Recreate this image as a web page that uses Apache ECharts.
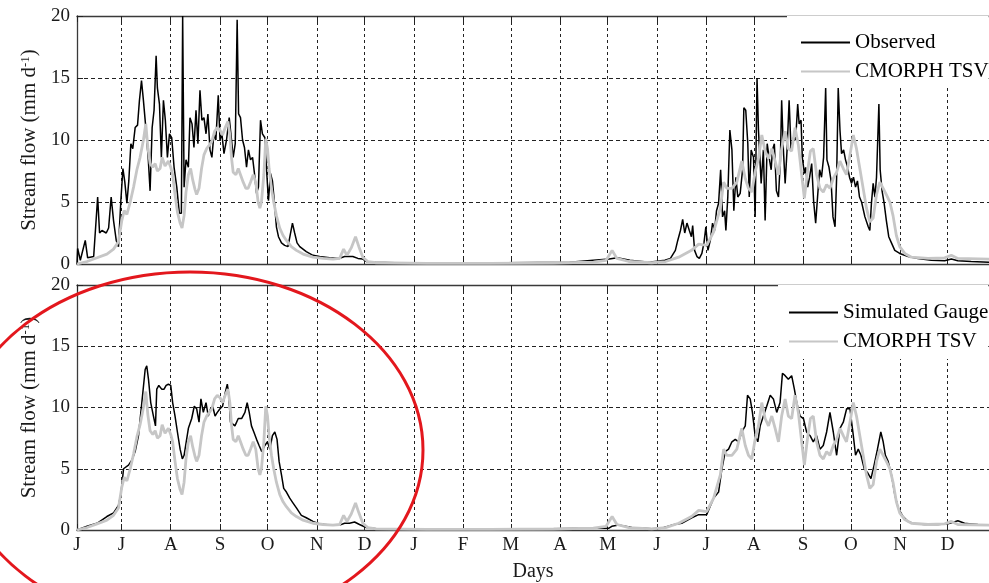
<!DOCTYPE html>
<html>
<head>
<meta charset="utf-8">
<script src="https://cdn.jsdelivr.net/npm/echarts@6/dist/echarts.min.js"></script>
<style>
  html, body { margin: 0; padding: 0; background: #fff; }
  #chart { width: 989px; height: 583px; }
</style>
</head>
<body>
<div id="chart"></div>
<script>
// Days counted from 1 June of the first year; month boundaries used for ticks
const monthTicks = [0, 28, 59, 90, 120, 151, 181, 212, 243, 273, 304, 334, 365, 396, 426, 457, 487, 518, 548];
const monthLetters = ['J','J','A','S','O','N','D','J','F','M','A','M','J','J','A','S','O','N','D'];
const yTicks = [0, 5, 10, 15, 20];

// Observed stream flow [day, mm/d]
const observed = [
  [0,0],[0.4,1.25],[2.1,0.3],[5.2,1.9],[6.7,0.5],[10.5,0.6],[13,5.4],[14.2,2.5],[15.7,2.7],[18.4,2.5],
  [19.9,2.9],[21.5,5.4],[23,3.5],[24.7,1.9],[26.1,1.4],[27.6,5.1],[28.9,7.7],[30.1,6.6],[31.4,4.9],[32.6,6.7],
  [33.9,9.7],[35.1,9.3],[36.6,11.0],[38.1,11.2],[39.3,13.2],[40.6,14.8],[41.8,13.2],[43.1,11.3],[44.8,8.6],[46,5.9],
  [47.3,11.0],[48.5,12.4],[49.8,16.8],[50.6,14.2],[51.9,12.9],[53.1,8.6],[54.4,13.2],[55.6,11.6],[56.9,8.6],[58.2,10.5],
  [59.6,10.2],[61.1,7.8],[62.8,6.2],[64.4,4.1],[65.7,4.1],[66.5,20],[67.4,6.2],[68.6,8.4],[70.1,7.8],[71.1,11.8],
  [72.4,11.3],[73.6,9.4],[74.9,12.4],[76.1,9.7],[77.4,14.0],[78.6,11.6],[79.9,11.8],[81.2,10.5],[82.4,12.1],[83.7,9.2],
  [84.9,8.6],[86.2,10.5],[87.4,10.0],[88.9,13.6],[90,10.0],[91.2,10.5],[92.5,8.9],[94.1,10.0],[95.8,11.8],[97.1,10.2],
  [98.3,8.6],[99.6,9.7],[100.8,19.7],[101.7,12.1],[102.9,11.8],[104.2,10.0],[105.4,9.4],[106.7,7.8],[107.9,9.2],[109.2,8.4],
  [110.5,8.6],[111.7,7.3],[113,5.7],[114.2,6.2],[115.5,11.6],[116.7,10.5],[118.2,10.2],[119.3,7.6],[120.5,5.1],[121.8,7.3],
  [123,6.7],[124.3,4.9],[125.5,3.0],[126.8,2.2],[128.7,1.7],[130.7,1.5],[132.8,1.4],[135.6,3.3],[137,2.5],[138.5,1.7],
  [140.2,1.4],[144.3,1.0],[148.5,0.7],[152.7,0.6],[159,0.5],[165.3,0.45],[168.4,0.6],[171.5,0.6],[173.6,0.6],[176.8,0.45],
  [179.9,0.4],[182,0.2],[188,0.15],[200,0.1],[230,0.1],[270,0.1],[310,0.15],[325,0.3],[335,0.4],[340,0.5],
  [348,0.3],[360,0.15],[370,0.3],[373.5,0.45],[376.6,1.1],[378.1,1.9],[379.8,2.7],[381.2,3.6],[382.5,2.5],[383.9,3.3],
  [385.4,2.7],[386.7,2.2],[387.5,3.1],[388.7,1.1],[390.2,0.6],[391.7,0.45],[393.3,0.85],[394.6,1.7],[395.8,3.0],[397.1,1.1],
  [398.6,1.9],[400,3.3],[401.3,2.7],[402.5,4.3],[403.8,4.9],[405.1,7.6],[406.3,3.8],[407.6,4.3],[408.4,2.7],[409.6,5.4],
  [410.9,10.8],[412.2,9.2],[413.4,4.3],[414.7,7.0],[415.9,5.4],[417.4,5.7],[418.9,7.6],[419.7,12.6],[420.9,12.4],[422.2,9.7],
  [423.1,5.4],[424.3,9.2],[425.8,8.6],[426.8,3.8],[428,15.0],[428.9,10.8],[430.6,6.5],[432,9.2],[433.1,3.5],[434.4,9.7],
  [435.6,8.6],[436.9,7.6],[437.7,9.2],[438.9,9.7],[440.2,5.9],[441.5,5.4],[442.7,8.4],[443.5,13.2],[444.6,9.2],[445.7,6.5],
  [446.9,9.2],[448.2,13.2],[449.4,9.2],[450.9,10.2],[452.3,10.0],[453.6,12.9],[454.5,11.3],[455.7,11.6],[456.5,8.6],[457.8,7.3],
  [458.6,7.8],[459.9,6.2],[461.1,7.0],[462.4,8.1],[463.6,5.1],[464.9,3.3],[466.1,5.4],[467.4,7.6],[468.6,7.0],[469.9,8.6],
  [471.2,14.2],[472,8.4],[473.3,7.8],[474.6,6.7],[475.8,3.8],[477.1,3.0],[478.1,7.0],[479.1,14.2],[480.2,10.8],[481.2,8.9],
  [482.5,9.2],[483.7,8.4],[485,7.8],[486.2,7.0],[487.5,6.5],[488.7,7.0],[490,6.2],[491.2,6.7],[492.5,5.4],[493.8,5.0],
  [495.9,3.8],[498,3.0],[499,2.7],[500,4.9],[501.1,6.5],[502.2,5.4],[503.2,7.0],[504.7,12.9],[505.5,7.6],[506.7,5.9],
  [508,4.9],[509.4,3.5],[510.9,2.2],[512.6,1.7],[514.7,1.1],[517.8,0.85],[523.1,0.6],[529.3,0.45],[537.7,0.3],[546.1,0.27],
  [550.3,0.4],[554.4,0.27],[562.8,0.2],[574,0.15]
];

// CMORPH TSV driven stream flow [day, mm/d]
const cmorphTsv = [
  [0,0],[6.3,0.2],[12.6,0.5],[18.8,0.8],[23,1.2],[26.1,1.8],[28.2,3.5],[29.7,4.3],[31.4,4.0],[33.5,5.0],
  [35.6,6.2],[37.7,7.6],[39.7,8.6],[41.8,10.0],[43.3,11.3],[44.6,9.4],[46,8.1],[47.7,7.8],[49.2,8.1],[50.6,7.5],
  [52.3,7.7],[53.6,8.6],[55.4,7.9],[57.5,8.3],[59,7.8],[60.2,7.2],[61.7,5.6],[63.2,4.2],[64.9,3.3],[66.1,2.9],
  [67.4,3.9],[68.6,5.8],[70.1,7.2],[71.5,7.7],[72.8,6.8],[74.3,6.0],[75.3,5.6],[76.8,6.1],[78.4,7.7],[79.9,8.8],
  [81.6,9.3],[83.3,9.6],[84.9,9.9],[86.6,10.7],[88.3,11.0],[90,10.8],[91.6,10.4],[93.3,11.0],[95,11.5],[96.2,10.4],
  [97.3,8.5],[98.3,7.4],[100,7.2],[101.5,7.7],[102.9,7.2],[104.6,6.6],[106.3,6.1],[107.7,6.1],[109.2,6.6],[110.9,7.2],
  [112.5,6.6],[114,5.0],[115.1,4.5],[116.1,5.0],[117.6,7.2],[118.8,10.1],[119.9,9.3],[120.9,7.7],[122.4,6.1],[123.8,5.0],
  [125.5,3.9],[127.6,2.9],[129.7,2.3],[131.8,1.9],[134.9,1.4],[138.1,1.1],[142.3,0.8],[148.5,0.55],[154.8,0.45],[161.1,0.4],
  [165.3,0.45],[167.8,1.2],[169.9,0.7],[172.6,1.3],[175.3,2.2],[177.4,1.4],[179.9,0.55],[183,0.2],[188.3,0.1],[220,0.05],
  [260,0.05],[300,0.08],[325,0.15],[333,0.3],[336.8,1.1],[339.8,0.45],[347.3,0.2],[361.7,0.1],[370.5,0.2],[378.7,0.55],
  [386.8,1.1],[391.3,1.6],[396.3,1.5],[400.7,2.6],[404.9,4.5],[407,6.6],[409,6.1],[412.2,6.1],[415.3,6.6],[418.4,8.3],
  [420.6,6.9],[422.6,6.1],[424.7,5.8],[426.8,7.4],[428.9,8.5],[431,10.4],[433.1,9.1],[435.2,8.5],[437.3,9.3],[439.4,8.3],
  [441.5,7.2],[443.5,9.3],[445.7,10.7],[447.7,9.3],[449.8,9.1],[451.9,11.0],[454,9.6],[456.1,7.2],[457.8,5.3],[459.5,7.2],
  [461.6,9.1],[463.4,9.3],[465.5,7.2],[467.6,6.1],[469.7,5.8],[471.8,6.4],[473.9,6.1],[476,6.9],[478.1,7.4],[480.2,8.3],
  [482.3,7.7],[484.3,7.2],[486.5,8.8],[488.6,10.4],[490.6,9.3],[492.7,7.7],[494.8,6.1],[496.9,4.5],[499,3.4],[501.1,3.7],
  [503.2,5.6],[505.3,6.6],[507.4,6.1],[509.4,5.6],[511.6,5.0],[513.6,3.9],[515.7,2.3],[517.8,1.4],[521,0.85],[525.2,0.55],
  [535.6,0.45],[546.1,0.5],[550.3,0.7],[554.4,0.45],[574,0.4]
];

// Stream flow simulated from gauge rainfall [day, mm/d]
const simulatedGauge = [
  [0,0],[6.3,0.3],[12.6,0.55],[18.8,1.1],[23,1.4],[26.1,2.0],[27.6,2.9],[29.3,5.0],[32.4,5.3],[34.5,5.7],
  [36.6,6.4],[38.7,7.7],[40.8,10.4],[42.9,13.1],[43.9,13.4],[45,12.3],[46.4,10.4],[48.1,9.3],[49.4,8.5],[50.2,11.5],
  [51.5,11.8],[53.3,11.5],[54.8,11.5],[56.1,11.8],[57.5,11.9],[59,11.8],[60.2,10.4],[61.7,9.3],[63.2,8.0],[64.9,6.6],
  [66.3,5.8],[67.4,6.1],[70.1,8.3],[72.2,9.1],[73.8,10.1],[75.3,9.9],[76.8,8.8],[78,10.7],[79.5,9.6],[81.2,10.4],
  [82.6,9.3],[84.1,9.9],[85.4,10.1],[86.9,9.3],[88.3,9.6],[90,9.9],[91.6,10.1],[93.3,11.2],[94.6,11.9],[95.4,11.2],
  [96.6,8.8],[99.4,8.5],[101.5,9.1],[103.6,9.1],[105.7,9.6],[107.1,10.4],[108.4,9.6],[109.8,8.5],[111.3,8.0],[113,7.4],
  [114.6,6.9],[116.3,6.4],[118.2,6.9],[119.9,7.2],[121.4,6.6],[123,7.7],[124.5,8.0],[125.9,7.4],[127.2,5.6],[128.7,4.5],
  [130.1,3.4],[131.8,3.1],[133.9,2.6],[136,2.2],[138.1,1.8],[141.2,1.2],[144.3,1.0],[148.5,0.7],[152.7,0.5],[159,0.4],
  [165.3,0.4],[168.4,0.55],[171.5,0.55],[174.7,0.65],[177.8,0.45],[182,0.2],[188.3,0.1],[230,0.05],[280,0.05],[316,0.15],
  [334.8,0.15],[336.6,0.3],[340.9,0.4],[349.2,0.2],[361.7,0.1],[368,0.15],[374.3,0.4],[380.6,0.55],[386.9,1.0],[391.3,1.25],
  [396.3,1.25],[400.7,2.6],[403.8,3.1],[405.9,5.0],[408,6.4],[410.1,6.6],[412.2,7.2],[414.3,7.4],[416.4,7.2],[418.4,8.0],
  [420.6,8.5],[422,11.0],[423.7,10.7],[425.1,9.6],[426.8,7.7],[428.5,7.2],[430,8.5],[432,9.3],[434.1,10.1],[436.3,11.0],
  [438.3,10.7],[440.4,9.6],[442.5,10.4],[444,12.8],[445.7,12.6],[447.7,12.3],[449.8,12.6],[451.5,11.5],[453,10.4],[455.1,9.3],
  [457.2,9.1],[459.2,8.0],[461.4,7.7],[463.4,7.2],[465.5,7.7],[467.6,6.6],[469.7,6.9],[471.8,8.0],[473.9,9.6],[476,8.0],
  [478.1,6.1],[480.2,8.3],[482.3,8.8],[484.4,9.9],[486.5,9.9],[488.6,7.7],[490,6.1],[491.7,6.6],[493.4,6.1],[495.5,5.0],
  [497.5,4.7],[499.7,4.2],[501.7,5.3],[503.8,6.6],[505.9,8.0],[507.4,7.2],[508.8,6.1],[510.5,5.6],[512.6,4.5],[514.7,2.9],
  [516.8,1.8],[519.9,1.1],[523.1,0.7],[527.3,0.5],[533.5,0.45],[541.9,0.45],[548.2,0.5],[554.4,0.75],[558.6,0.55],[562.8,0.5],
  [567,0.45],[574,0.4]
];

const SERIF = '"Liberation Serif", "Times New Roman", serif';
const INK = '#1a1a1a';
const GREY = '#c6c6c6';

function monthLabel(v) {
  const i = monthTicks.indexOf(v);
  return i >= 0 ? monthLetters[i] : '';
}

function xAxisFor(gridIndex, position, withLabels, withGrid) {
  return {
    type: 'value', gridIndex, position, min: 0, max: 574,
    axisLine: { show: true, onZero: false, lineStyle: { color: '#3a3a3a', width: 1.3 } },
    axisTick: { show: true, inside: true, length: 6, customValues: monthTicks, lineStyle: { color: '#222', width: 1 } },
    axisLabel: {
      show: withLabels, customValues: monthTicks, formatter: monthLabel,
      fontFamily: SERIF, fontSize: 19, color: INK, margin: 6
    },
    splitLine: { show: withGrid, lineStyle: { type: [3, 3], color: '#222', width: 1 } }
  };
}

function yAxisFor(gridIndex) {
  return {
    type: 'value', gridIndex, min: 0, max: 20, interval: 5,
    name: 'Stream flow (mm d{sup|-1})',
    nameLocation: 'middle', nameGap: 35, nameRotate: 90,
    nameTextStyle: {
      fontFamily: SERIF, fontSize: 21, color: INK,
      rich: { sup: { fontFamily: SERIF, fontSize: 13, color: INK, verticalAlign: 'top', padding: [0, 0, 8, 0] } }
    },
    axisLine: { show: true, lineStyle: { color: '#3a3a3a', width: 1.3 } },
    axisTick: { show: true, inside: true, length: 6, lineStyle: { color: '#222' } },
    axisLabel: {
      fontFamily: SERIF, fontSize: 19, color: INK, margin: 7,
      formatter: v => (yTicks.indexOf(v) >= 0 ? String(v) : '')
    },
    splitLine: { show: true, lineStyle: { type: [4, 3], color: '#222', width: 1 } }
  };
}

function flowLine(name, data, xi, yi, color, width) {
  return {
    name, type: 'line', data, xAxisIndex: xi, yAxisIndex: yi,
    symbol: 'none', showSymbol: false, smooth: false, animation: false,
    lineStyle: { color, width }, itemStyle: { color }
  };
}

// Legend keys are drawn as plain line samples (the marker dot is hidden)
const legendBase = {
  orient: 'vertical', itemWidth: 49, itemHeight: 14, itemGap: 8,
  backgroundColor: '#fff', selectedMode: false,
  itemStyle: { opacity: 0, borderWidth: 0 },
  textStyle: { fontFamily: SERIF, fontSize: 21, color: '#000' }
};

const option = {
  backgroundColor: '#fff',
  animation: false,
  grid: [
    { left: 77, right: -3, top: 16, height: 248 },
    { left: 77, right: -3, top: 285, height: 247 }
  ],
  xAxis: [
    xAxisFor(0, 'bottom', false, true),
    xAxisFor(0, 'top', false, false),
    Object.assign(xAxisFor(1, 'bottom', true, true), {
      name: 'Days', nameLocation: 'middle', nameGap: 32,
      nameTextStyle: { fontFamily: SERIF, fontSize: 20, color: INK }
    }),
    xAxisFor(1, 'top', false, false)
  ],
  yAxis: [yAxisFor(0), yAxisFor(1)],
  legend: [
    Object.assign({}, legendBase, {
      data: ['Observed', 'CMORPH TSV'], left: 787, top: 16, padding: [16, 0, 6, 13]
    }),
    Object.assign({}, legendBase, {
      data: ['Simulated Gauge', 'CMORPH TSV'], left: 778, top: 285, padding: [17, 0, 7, 10]
    })
  ],
  series: [
    flowLine('Observed', observed, 0, 0, '#000', 1.5),
    flowLine('CMORPH TSV', cmorphTsv, 0, 0, GREY, 2.8),
    flowLine('Simulated Gauge', simulatedGauge, 2, 1, '#000', 1.5),
    flowLine('CMORPH TSV', cmorphTsv, 2, 1, GREY, 2.8)
  ],
  graphic: [
    {
      type: 'ellipse', z: 100, silent: true,
      shape: { cx: 190, cy: 450, rx: 233, ry: 178 },
      style: { fill: 'none', stroke: '#e3171d', lineWidth: 3 }
    }
  ]
};

const chart = echarts.init(document.getElementById('chart'), null, { renderer: 'canvas' });
chart.setOption(option);
</script>
</body>
</html>
